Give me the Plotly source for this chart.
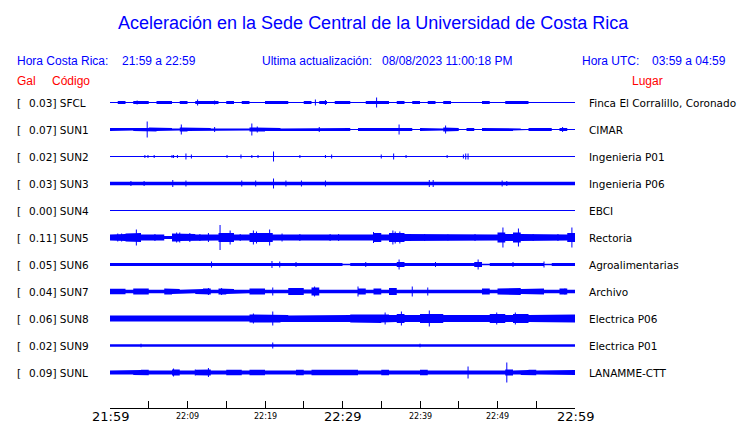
import plotly.graph_objects as go

# ---------------- data ----------------
stations = ["SFCL", "SUN1", "SUN2", "SUN3", "SUN4", "SUN5", "SUN6", "SUN7", "SUN8", "SUN9", "SUNL"]
gal = [0.03, 0.07, 0.02, 0.03, 0.00, 0.11, 0.05, 0.04, 0.06, 0.02, 0.09]
places = ["Finca El Corralillo, Coronado", "CIMAR", "Ingenieria P01", "Ingenieria P06", "EBCI",
          "Rectoria", "Agroalimentarias", "Archivo", "Electrica P06", "Electrica P01", "LANAMME-CTT"]

# time axis: minutes after 21:59 (local)
tick_minutes = [0, 10, 20, 30, 40, 50, 60]
tick_labels = ["21:59", "22:09", "22:19", "22:29", "22:39", "22:49", "22:59"]
tick_major = [True, False, False, True, False, False, True]

# per-minute envelope (half amplitude, display units)
env_SFCL = [0.5,1.5,0.5,1.5,1.5,0.5,1.5,1.5,0.5,1.5, 0.5,1.5,1.5,1.5,0.5,1.5,0.5,1.5,0.5,0.5,
            1.5,1.5,1.5,0.5,0.5,1.5,0.5,1.5,0.5,1.5, 1.5,0.5,0.5,1.5,1.5,1.5,0.5,1.5,0.5,1.5,
            0.5,1.5,0.5,1.5,0.5,0.5,0.5,0.5,1.5,0.5, 0.5,1.5,1.5,1.5,0.5,0.5,0.5,0.5,0.5,0.5]
env_SUN1 = [1.5,1.5,1.0,1.5,1.5,2.0,1.5,1.5,1.0,2.0, 1.5,1.5,1.5,1.0,1.5,1.5,1.5,1.0,2.0,2.0,
            1.5,1.5,1.0,1.5,1.5,1.5,1.0,1.5,1.5,1.5, 1.5,0.5,1.5,1.5,1.5,1.5,1.5,2.0,1.5,0.5,
            1.5,1.5,1.0,2.0,1.5,0.5,1.5,0.5,1.5,1.5, 1.5,1.5,1.0,0.5,1.5,1.5,1.5,0.5,1.5,0.5]
env_SUN2 = [0.5] * 60
env_SUN3 = [1.8,1.8,1.8,1.8,1.8,1.8,1.8,1.8,1.8,1.8, 1.8,1.8,1.8,1.8,1.8,1.8,1.8,1.8,1.8,1.8,
            1.8,1.8,1.8,1.8,1.8,1.8,1.8,1.8,1.8,1.8, 1.8,1.8,1.8,1.8,1.8,1.8,1.8,1.8,1.8,1.8,
            1.8,1.8,1.8,1.8,1.8,1.8,1.8,1.8,1.8,1.8, 1.8,1.8,1.4,1.4,1.4,1.4,1.8,1.8,1.8,1.8]
env_SUN4 = [0.5] * 60
env_SUN5 = [3,3.5,4,4.5,3,3,3,1.5,4,3.5, 3.5,3,3.5,3,4.5,4.5,3,3,4.5,4.5,
            4.5,3,3.5,3,3,3,3.5,3,3.5,3.5, 3.5,3.5,3,3,4.5,3,4.5,4.5,3.5,3,
            3,3,3.5,3,3,3,3.5,3.5,3,3, 5,3.5,5,3.5,3.5,3,3,3.5,3,4.5]
env_SUN6 = [1.5,1.5,1.5,1.5,1.5,1.5,1.5,1.5,1.5,1.5, 1.5,1.5,1.5,2.0,1.5,1.5,1.5,1.5,1.5,1.5,
            2.0,1.5,1.5,1.5,1.5,1.5,1.5,1.5,1.5,1.5, 0.7,1.5,1.5,1.5,1.5,1.5,1.5,2.5,1.5,1.5,
            1.5,1.5,1.5,1.5,1.5,1.5,1.5,2.5,0.7,1.5, 1.5,1.5,1.5,1.5,1.5,1.5,0.7,1.5,1.5,1.5]
env_SUN7 = [2.8,2.8,1.8,3,3,1.8,1.8,3,2.5,1.8, 1.8,2.5,3,1.8,3,2.5,1.8,1.8,3,3,
            1.8,2.5,1.8,3.5,3.5,2,4,1.8,2.5,1.8, 1.8,1.8,3,1.8,3,1.8,3.5,1.8,1.8,2.5,
            1.8,2.5,1.8,1.8,1.8,1.8,1.8,1.8,3,1.8, 3,3.5,3.5,2.5,3,3,1.8,1.8,3,1.8]
env_SUN8 = [3,3.5,3,3,3.5,3,3,3.5,3,3, 3.5,3,3,3,3.5,3,3,3,4,3.5,
            3.5,4,3.5,3,3.5,3,3.5,3.5,3,3.5, 3.5,4,4,4,4.5,4,3.5,4.5,3.5,3.5,
            4.5,5,4.5,3.5,3.5,3.5,3.5,3.5,3.5,4.5, 4.5,3.5,4.5,4.5,3.5,4,3.5,4,3.5,4]
env_SUN9 = [1.2,1.2,0.8,1.2,1.2,1.2,0.8,1.2,1.2,1.2, 0.8,1.2,1.2,1.2,0.8,1.2,1.2,1.2,1.2,0.8,
            1.2,1.5,1.2,1.2,1.2,0.8,1.2,1.2,1.2,0.8, 1.2,1.2,1.2,0.8,1.2,1.2,1.2,1.2,0.8,1.2,
            1.2,1.2,1.2,1.2,0.8,1.2,1.2,1.2,1.2,0.8, 1.2,1.2,1.2,1.2,1.2,0.8,1.2,1.2,1.2,1.2]
env_SUNL = [2,2,2,2.5,2.8,2,2,2,3,2, 2,2.8,3,2,2,2.8,2.8,2,2.8,2.8,
            2,2,2,2,2.8,2,2.8,2.8,2.8,2.8, 2.8,2.8,2,2,2,2.8,2,2,2,2,
            2.8,2,2,2,2,2,2.5,2,2,2, 2,3,2,2.5,2.8,2,2.5,2.5,2.5,2.5]

# isolated spikes: (minute, half amplitude)
spk_SFCL = [(3.5, 2), (11.3, 3), (13.5, 2), (26.5, 3), (27.8, 2.5), (34.4, 5)]
spk_SUN1 = [(4.8, 8), (9.2, 5), (13.5, 2.5), (18.3, 6), (19.0, 3), (27.0, 2.5), (37.3, 5), (43.3, 4), (58.4, 2.5)]
spk_SUN2 = [(4.5, 1.5), (4.9, 1.5), (5.7, 1.5), (8.0, 1.5), (8.2, 1.5), (8.7, 1.5), (9.8, 3), (10.5, 2),
            (15.1, 1.5), (16.9, 2), (18.3, 1.5), (19.1, 1.5), (21.1, 5), (24.5, 1.5), (27.8, 1.5), (28.6, 2),
            (35.0, 2), (36.6, 3), (38.2, 1.5), (43.5, 1.5), (45.6, 2), (45.9, 3), (46.2, 3)]
spk_SUN3 = [(2.7, 2.5), (4.4, 2.5), (8.1, 3.5), (9.8, 3), (17.0, 3), (18.8, 3), (21.1, 5), (22.7, 3),
            (24.7, 3), (27.8, 3), (41.2, 3.5), (41.7, 3.5), (50.6, 3), (51.2, 2.5)]
spk_SUN4 = []
spk_SUN5 = [(1.0, 4), (1.5, 4), (3.4, 8), (5.8, 3.5), (8.6, 5), (9.0, 5), (10.3, 4.5), (11.6, 3.5),
            (12.7, 4.5), (14.2, 12.5), (15.5, 7), (16.8, 3.5), (18.5, 7), (18.9, 6), (20.6, 8),
            (22.2, 4), (24.5, 3.5), (28.4, 3.5), (29.5, 3.5), (34.0, 5.5), (36.5, 7), (36.8, 6),
            (37.4, 6), (40.6, 3.5), (43.6, 3), (47.1, 3.5), (50.7, 10), (52.7, 9), (54.6, 3.5),
            (57.8, 3.5), (59.6, 10)]
spk_SUN6 = [(13.1, 3), (20.9, 3.5), (21.9, 3), (24.0, 2.5), (33.0, 2.5), (37.3, 5), (42.0, 2.5),
            (47.5, 5), (52.0, 2.5), (56.0, 3)]
spk_SUN7 = [(12.7, 3.5), (14.4, 3.5), (21.0, 4), (26.4, 5), (32.0, 5), (39.0, 5), (41.0, 4), (58.7, 3)]
spk_SUN8 = [(18.5, 5), (21.0, 7), (35.5, 6), (37.6, 7), (41.2, 8), (49.9, 6), (52.3, 6)]
spk_SUN9 = [(4.0, 1.8), (21.0, 3), (40.0, 1.8)]
spk_SUNL = [(8.2, 4), (11.0, 3), (12.7, 4.5), (46.2, 6), (51.2, 10)]

envelopes = [env_SFCL, env_SUN1, env_SUN2, env_SUN3, env_SUN4, env_SUN5,
             env_SUN6, env_SUN7, env_SUN8, env_SUN9, env_SUNL]
spikes = [spk_SFCL, spk_SUN1, spk_SUN2, spk_SUN3, spk_SUN4, spk_SUN5,
          spk_SUN6, spk_SUN7, spk_SUN8, spk_SUN9, spk_SUNL]

# ---------------- figure ----------------
W, H = 740, 423
ML, MR, MT, MB = 110, 165, 88, 15
PW, PH = W - ML - MR, H - MT - MB
ROW = 27          # display units between traces
TOP_PAD = 14.5    # display units above first trace
BLUE = "#0000FF"

fig = go.Figure()

for i, (env, spk) in enumerate(zip(envelopes, spikes)):
    c = ROW * i
    xs_up, ys_up = [], []
    for m, a in enumerate(env):
        xs_up += [m, m + 1]
        ys_up += [c - a, c - a]
    xs = xs_up + xs_up[::-1]
    ys = ys_up + [2 * c - y for y in ys_up[::-1]]
    fig.add_trace(go.Scatter(x=xs, y=ys, mode="lines", fill="toself", fillcolor=BLUE,
                             line=dict(width=0, color=BLUE), hoverinfo="skip", showlegend=False))
    fig.add_trace(go.Scatter(x=[0, 60], y=[c, c], mode="lines", line=dict(width=1, color=BLUE),
                             hoverinfo="skip", showlegend=False))
    if spk:
        sx, sy = [], []
        for m, a in spk:
            sx += [m, m, None]
            sy += [c - a, c + a, None]
        fig.add_trace(go.Scatter(x=sx, y=sy, mode="lines", line=dict(width=1, color=BLUE),
                                 hoverinfo="skip", showlegend=False))


def px_x(p):
    return (p - ML) / PW


def px_y(p):
    return (H - MB - p) / PH


ann = []


def text(x, y, s, size, color, family, xanchor="left"):
    ann.append(dict(x=px_x(x), y=px_y(y), xref="paper", yref="paper", text=s, showarrow=False,
                    xanchor=xanchor, yanchor="middle",
                    font=dict(size=size, color=color, family=family)))


SANS = "Liberation Sans"
DJ = "DejaVu Sans"
text(373, 23.5, "Aceleración en la Sede Central de la Universidad de Costa Rica", 18, BLUE, SANS, "center")
text(15, 61, "Hora Costa Rica:", 12, BLUE, SANS)
text(120, 61, "21:59 a 22:59", 12, BLUE, SANS)
text(260, 61, "Ultima actualización:", 12, BLUE, SANS)
text(380, 61, "08/08/2023 11:00:18 PM", 12, BLUE, SANS)
text(580, 61, "Hora UTC:", 12, BLUE, SANS)
text(650, 61, "03:59 a 04:59", 12, BLUE, SANS)
text(15, 81, "Gal", 12, "#FF0000", SANS)
text(50, 81, "Código", 12, "#FF0000", SANS)
text(630, 81, "Lugar", 12, "#FF0000", SANS)

for i, (st, g, pl) in enumerate(zip(stations, gal, places)):
    yp = MT + TOP_PAD + ROW * i
    text(15, yp, "[", 10.5, "black", DJ)
    text(27, yp, f"{g:.2f}] {st}", 10.5, "black", DJ)
    text(587, yp, pl, 10.5, "black", DJ)

for m, lab, big in zip(tick_minutes, tick_labels, tick_major):
    ann.append(dict(x=m, y=px_y(416.5), xref="x", yref="paper", text=lab, showarrow=False,
                    xanchor="center", yanchor="middle",
                    font=dict(size=13 if big else 8, color="black", family=DJ)))

fig.update_layout(
    width=W, height=H, margin=dict(l=ML, r=MR, t=MT, b=MB, pad=0),
    paper_bgcolor="white", plot_bgcolor="white", showlegend=False,
    annotations=ann,
    xaxis=dict(range=[0, 60], tickvals=list(range(0, 61, 5)), ticks="inside", ticklen=7,
               tickwidth=1, tickcolor="black", showticklabels=False, showline=True,
               linecolor="black", linewidth=1, showgrid=False, zeroline=False, fixedrange=True),
    yaxis=dict(range=[PH - TOP_PAD, -TOP_PAD], visible=False, showgrid=False, zeroline=False,
               fixedrange=True),
)

fig.write_html("out.html", config={"displayModeBar": False},
               post_script="document.body.style.margin='0';document.body.style.overflow='hidden';")
